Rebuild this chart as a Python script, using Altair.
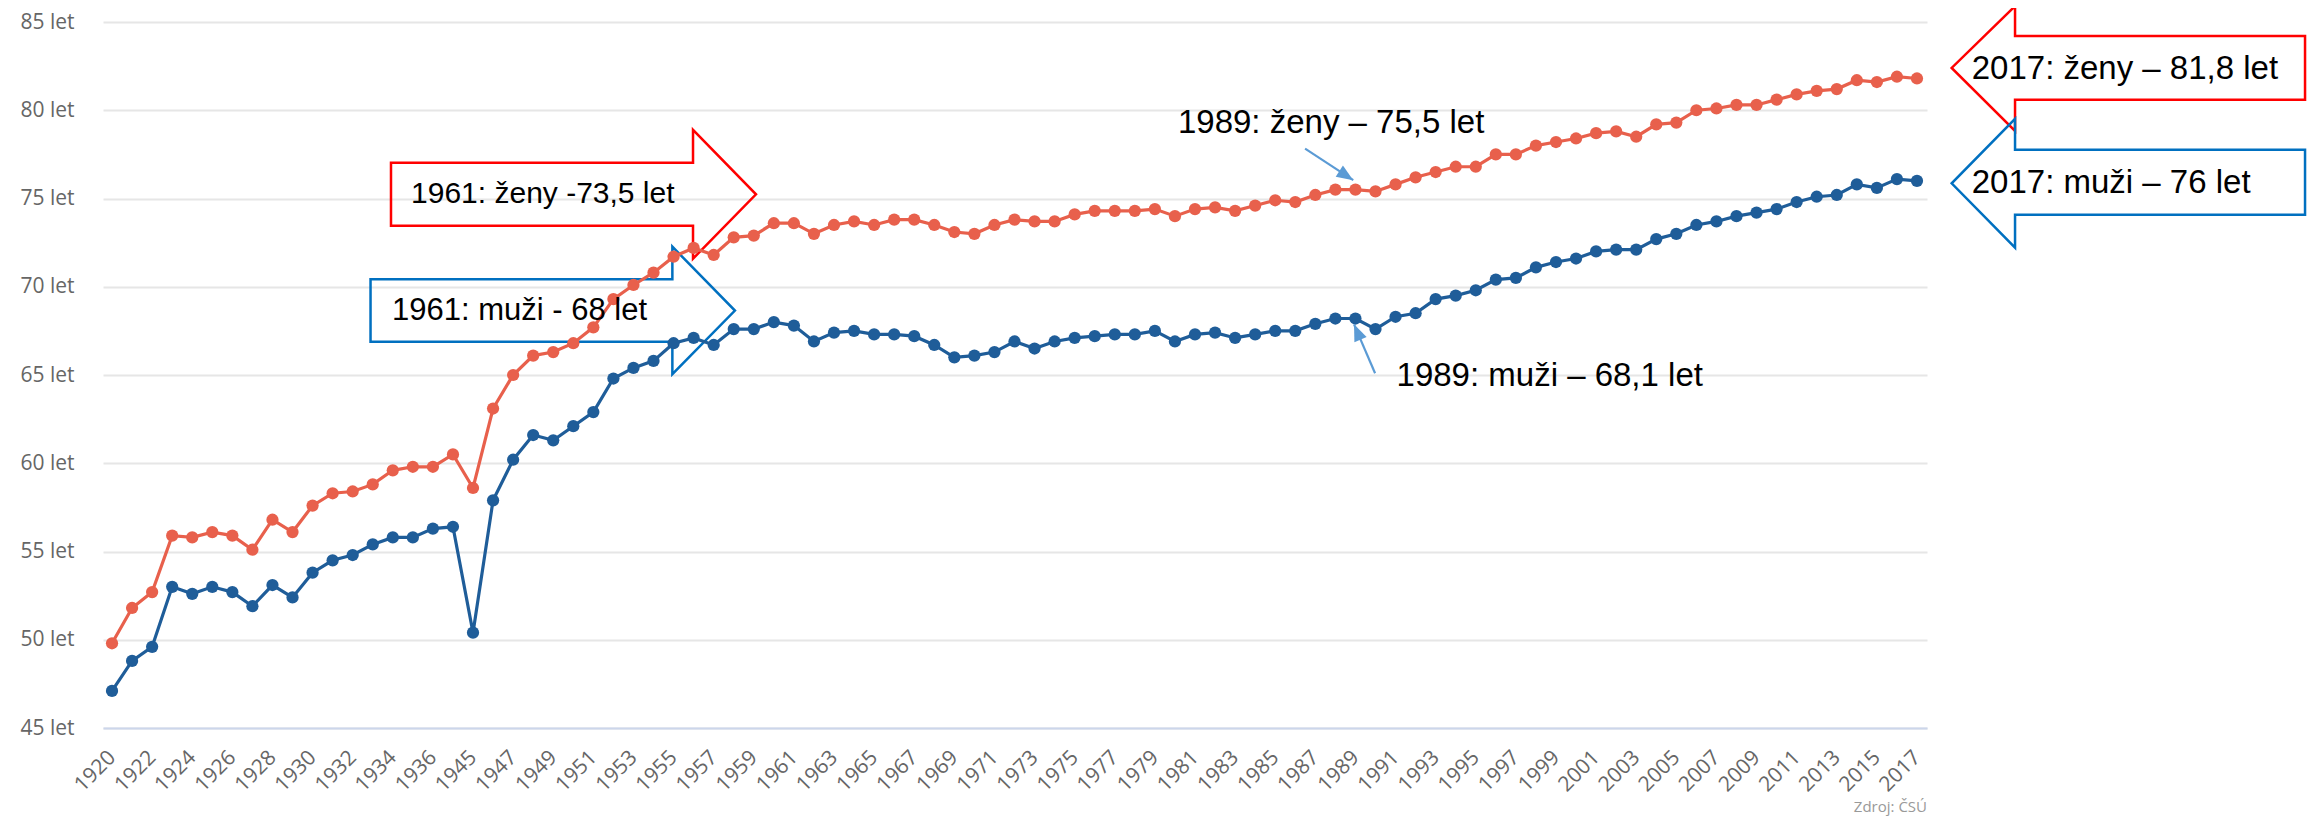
import altair as alt
import pandas as pd

# ---------------- data ----------------
years = list(range(1920, 1938)) + list(range(1945, 2018))

zeny = [49.8, 51.8, 52.7, 55.9, 55.8, 56.1, 55.9, 55.1, 56.8, 56.1, 57.6, 58.3, 58.4, 58.8, 59.6, 59.8, 59.8, 60.5,
        58.6, 63.1, 65.0, 66.1, 66.3, 66.8, 67.7, 69.3, 70.1, 70.8, 71.7, 72.2, 71.8, 72.8, 72.9, 73.6, 73.6,
        73.0, 73.5, 73.7, 73.5, 73.8, 73.8, 73.5, 73.1, 73.0, 73.5, 73.8, 73.7, 73.7, 74.1, 74.3, 74.3, 74.3,
        74.4, 74.0, 74.4, 74.5, 74.3, 74.6, 74.9, 74.8, 75.2, 75.5, 75.5, 75.4, 75.8, 76.2, 76.5, 76.8, 76.8,
        77.5, 77.5, 78.0, 78.2, 78.4, 78.7, 78.8, 78.5, 79.2, 79.3, 80.0, 80.1, 80.3, 80.3, 80.6, 80.9, 81.1,
        81.2, 81.7, 81.6, 81.9, 81.8]

muzi = [47.1, 48.8, 49.6, 53.0, 52.6, 53.0, 52.7, 51.9, 53.1, 52.4, 53.8, 54.5, 54.8, 55.4, 55.8, 55.8, 56.3, 56.4,
        50.4, 57.9, 60.2, 61.6, 61.3, 62.1, 62.9, 64.8, 65.4, 65.8, 66.8, 67.1, 66.7, 67.6, 67.6, 68.0, 67.8,
        66.9, 67.4, 67.5, 67.3, 67.3, 67.2, 66.7, 66.0, 66.1, 66.3, 66.9, 66.5, 66.9, 67.1, 67.2, 67.3, 67.3,
        67.5, 66.9, 67.3, 67.4, 67.1, 67.3, 67.5, 67.5, 67.9, 68.2, 68.2, 67.6, 68.3, 68.5, 69.3, 69.5, 69.8,
        70.4, 70.5, 71.1, 71.4, 71.6, 72.0, 72.1, 72.1, 72.7, 73.0, 73.5, 73.7, 74.0, 74.2, 74.4, 74.8, 75.1,
        75.2, 75.8, 75.6, 76.1, 76.0]

assert len(years) == len(zeny) == len(muzi) == 91

tick_idx = list(range(0, len(years), 2))
y_ticks = [45, 50, 55, 60, 65, 70, 75, 80, 85]

# annotation shapes (in data units: x = year position index, y = years of life)
z1961_x = [13.91, 13.91, 28.97, 28.97, 32.11, 28.97, 28.97, 13.91, 13.91]
z1961_y = [75.24, 77.02, 77.02, 78.89, 75.24, 71.59, 73.46, 73.46, 75.24]
m1961_x = [12.89, 12.89, 27.94, 27.94, 31.06, 27.94, 27.94, 12.89, 12.89]
m1961_y = [68.65, 70.42, 70.42, 72.27, 68.65, 65.05, 66.89, 66.89, 68.65]
z2017_x = [109.35, 109.35, 94.89, 94.89, 91.73, 94.89, 94.89, 109.35, 109.35]
z2017_y = [82.40, 84.21, 84.21, 85.90, 82.40, 78.83, 80.59, 80.59, 82.40]
m2017_x = [109.35, 109.35, 94.89, 94.89, 91.73, 94.89, 94.89, 109.35, 109.35]
m2017_y = [75.92, 77.76, 77.76, 79.51, 75.86, 72.21, 74.08, 74.08, 75.92]

label_texts = ["1961: ženy -73,5 let", "1961: muži - 68 let", "2017: ženy – 81,8 let",
               "2017: muži – 76 let", "1989: ženy – 75,5 let", "1989: muži – 68,1 let"]
label_x = [14.91, 13.96, 92.73, 92.73, 53.15, 64.05]
label_y = [75.24, 68.65, 82.31, 75.89, 79.25, 64.97]
label_size = [30, 31, 33, 33, 33, 33]

# small pointer arrows: start, tip, head angle
ptr_x0 = [59.49, 62.98]
ptr_y0 = [77.83, 65.10]
ptr_x1 = [61.89, 61.93]
ptr_y1 = [76.04, 67.87]
ptr_angle = [123, 337]

source_text = "Zdroj: ČSÚ"
source_x = [90.5]
source_y = [40.55]

# ---------------- styles ----------------
RED = "#e8604c"
BLUE = "#1f5d99"
ANN_RED = "#ff0000"
ANN_BLUE = "#0070c0"
PTR = "#5b9bd5"
LABEL_FONT = "Open Sans"
ANN_FONT = "Liberation Sans"

xscale = alt.Scale(domain=[-0.45, 90.5], nice=False, zero=False)
yscale = alt.Scale(domain=[45, 85], nice=False, zero=False)

year_arr = "[" + ",".join("'%d'" % y for y in years) + "]"

xaxis = alt.Axis(values=tick_idx, labelExpr=year_arr + "[datum.value]", labelAngle=-45,
                 labelAlign="right", labelBaseline="middle", labelPadding=26, ticks=False,
                 grid=False, domainColor="#ccd6eb", domainWidth=2, labelColor="#666666",
                 labelFontSize=21, labelFont=LABEL_FONT, title=None, labelOverlap=False)
yaxis = alt.Axis(values=y_ticks, labelExpr="datum.value + ' let'", grid=True, gridColor="#e6e6e6",
                 gridWidth=2, domain=False, ticks=False, labelPadding=29, labelFontSize=21,
                 labelColor="#666666", labelFont=LABEL_FONT, title=None)


def X():
    return alt.X("x:Q", scale=xscale, axis=xaxis)


def Y():
    return alt.Y("y:Q", scale=yscale, axis=yaxis)


idx = list(range(len(years)))
df_z = pd.DataFrame({"x": idx, "y": zeny, "rok": years})
df_m = pd.DataFrame({"x": idx, "y": muzi, "rok": years})

layers = []

# annotation block arrows
for xs, ys, col in [(z1961_x, z1961_y, ANN_RED), (m1961_x, m1961_y, ANN_BLUE),
                    (z2017_x, z2017_y, ANN_RED), (m2017_x, m2017_y, ANN_BLUE)]:
    d = pd.DataFrame({"x": xs, "y": ys, "o": list(range(len(xs)))})
    layers.append(alt.Chart(d).mark_line(color=col, strokeWidth=2.5, strokeJoin="miter", clip=False)
                  .encode(x=X(), y=Y(), order=alt.Order("o:Q")))

# data series
for d, col in [(df_m, BLUE), (df_z, RED)]:
    layers.append(alt.Chart(d).mark_line(color=col, strokeWidth=3.2).encode(x=X(), y=Y()))
    layers.append(alt.Chart(d).mark_circle(color=col, size=150, opacity=1).encode(x=X(), y=Y()))

# pointer arrows
for k in range(len(ptr_x0)):
    d = pd.DataFrame({"x": [ptr_x0[k], ptr_x1[k]], "y": [ptr_y0[k], ptr_y1[k]], "o": [0, 1]})
    layers.append(alt.Chart(d).mark_line(color=PTR, strokeWidth=2.2, clip=False)
                  .encode(x=X(), y=Y(), order=alt.Order("o:Q")))
    h = pd.DataFrame({"x": [ptr_x1[k]], "y": [ptr_y1[k]]})
    layers.append(alt.Chart(h).mark_point(shape="M0,0L-0.4,1L0.4,1Z", filled=True, size=1100,
                                          color=PTR, opacity=1, angle=ptr_angle[k], strokeWidth=0)
                  .encode(x=X(), y=Y()))

# annotation texts
for k in range(len(label_texts)):
    d = pd.DataFrame({"x": [label_x[k]], "y": [label_y[k]], "t": [label_texts[k]]})
    layers.append(alt.Chart(d).mark_text(align="left", baseline="middle", fontSize=label_size[k],
                                         font=ANN_FONT, color="#000000", clip=False)
                  .encode(x=X(), y=Y(), text="t:N"))

# source
d = pd.DataFrame({"x": source_x, "y": source_y, "t": [source_text]})
layers.append(alt.Chart(d).mark_text(align="right", baseline="middle", fontSize=15, font=LABEL_FONT,
                                     color="#999999", clip=False)
              .encode(x=X(), y=Y(), text="t:N"))

chart = alt.layer(*layers).properties(
    width=1824, height=706,
    autosize=alt.AutoSizeParams(type="none"),
    padding={"left": 95, "top": 14, "right": 382, "bottom": 89},
    background="white",
).configure_view(strokeWidth=0)

chart.save("out.html", embed_options={"renderer": "svg", "actions": False})
